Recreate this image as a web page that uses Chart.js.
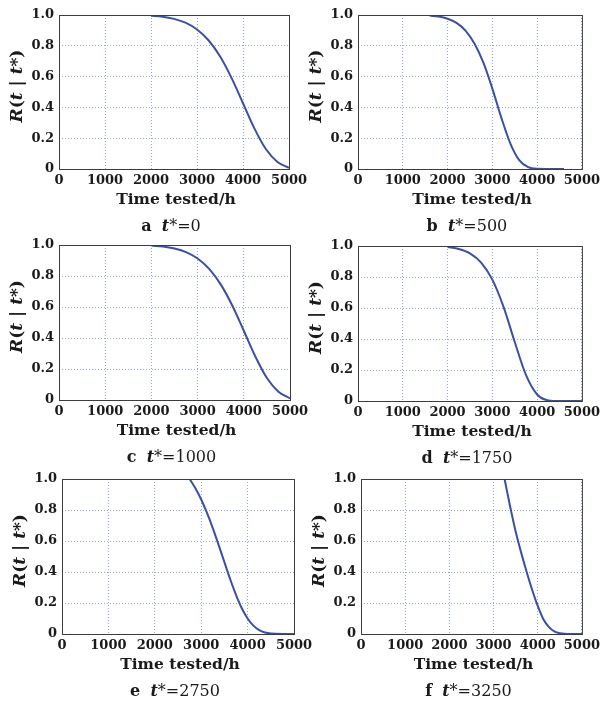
<!DOCTYPE html>
<html>
<head>
<meta charset="utf-8">
<script src="https://cdn.jsdelivr.net/npm/chart.js@4.4.1/dist/chart.umd.min.js"></script>
<style>
  html, body { margin: 0; padding: 0; background: #fff; }
  #wrap { position: relative; width: 604px; height: 706px; overflow: hidden; }
  #wrap canvas { position: absolute; left: 0; top: 0; }
</style>
</head>
<body>
<div id="wrap">
  <canvas id="pa" width="604" height="706"></canvas>
  <canvas id="pb" width="604" height="706"></canvas>
  <canvas id="pc" width="604" height="706"></canvas>
  <canvas id="pd" width="604" height="706"></canvas>
  <canvas id="pe" width="604" height="706"></canvas>
  <canvas id="pf" width="604" height="706"></canvas>
</div>
<script>
// values (time in h, conditional reliability)
const timeA = [2000, 2250, 2500, 2750, 3000, 3250, 3500, 3750, 4000, 4250, 4500, 4750, 5000];
const relA = [0.995, 0.989, 0.975, 0.950, 0.906, 0.836, 0.732, 0.592, 0.427, 0.262, 0.128, 0.046, 0.008];

const timeB = [1600, 1800, 2000, 2200, 2400, 2600, 2800, 3000, 3200, 3400, 3600, 3800, 4000, 4200, 4400, 4600];
const relB = [0.996, 0.990, 0.976, 0.949, 0.899, 0.815, 0.690, 0.522, 0.334, 0.167, 0.058, 0.012, 0.001, 0, 0, 0];

const timeC = [2000, 2250, 2500, 2750, 3000, 3250, 3500, 3750, 4000, 4250, 4500, 4750, 5000];
const relC = [0.996, 0.990, 0.977, 0.954, 0.913, 0.846, 0.746, 0.610, 0.447, 0.281, 0.142, 0.054, 0.010];

const timeD = [2000, 2250, 2500, 2750, 3000, 3250, 3500, 3750, 4000, 4250, 4500, 4750, 5000];
const relD = [0.993, 0.981, 0.953, 0.893, 0.783, 0.607, 0.381, 0.168, 0.042, 0.004, 0, 0, 0];

const timeE = [2750, 2875, 3000, 3125, 3250, 3375, 3500, 3625, 3750, 3875, 4000, 4125, 4250, 4375, 4500, 4750, 5000];
const relE = [1.0, 0.94, 0.868, 0.781, 0.683, 0.575, 0.464, 0.353, 0.253, 0.166, 0.100, 0.054, 0.025, 0.010, 0.003, 0, 0];

const timeF = [3250, 3300, 3375, 3450, 3500, 3625, 3750, 3875, 4000, 4125, 4250, 4375, 4500, 4750, 5000];
const relF = [1.0, 0.928, 0.823, 0.724, 0.662, 0.525, 0.400, 0.284, 0.181, 0.097, 0.046, 0.017, 0.005, 0, 0];

const panelLetters = ['a', 'b', 'c', 'd', 'e', 'f'];
const tStars = ['0', '500', '1000', '1750', '2750', '3250'];
const xLabel = 'Time tested/h';

// plot boxes on the page: left, top, right, bottom
const boxes = [
  [59, 15, 289, 169],
  [358, 15, 587, 169],
  [59, 245, 290, 400],
  [358, 246, 589, 401],
  [62, 479, 294, 634],
  [361, 479, 592, 634]
];

const W = 604, H = 706;
const Y_AXIS_W = 40, X_AXIS_H = 30;
const serif = '"DejaVu Serif", "Liberation Serif", serif';

function drawRich(ctx, parts, cx, cy) {
  let total = 0;
  parts.forEach((p) => {
    ctx.font = p.font;
    p.w = ctx.measureText(p.text).width;
    total += p.w;
  });
  let x = cx - total / 2;
  ctx.textAlign = 'left';
  ctx.textBaseline = 'middle';
  parts.forEach((p) => {
    ctx.font = p.font;
    ctx.fillText(p.text, x, cy);
    x += p.w;
  });
}

const panelText = {
  id: 'panelText',
  afterDraw(chart, args, opts) {
    const { ctx, chartArea: a } = chart;
    ctx.save();
    // box round the plot
    ctx.strokeStyle = '#3c3c3c';
    ctx.lineWidth = 1;
    ctx.setLineDash([]);
    ctx.strokeRect(a.left + 0.5, a.top + 0.5, a.right - a.left, a.bottom - a.top);

    ctx.fillStyle = '#1a1a1a';
    const cx = (a.left + a.right) / 2;

    drawRich(ctx, [{ text: xLabel, font: 'bold 15.5px ' + serif }], cx + 2, a.bottom + 31);

    drawRich(ctx, [
      { text: opts.letter, font: 'bold 16px ' + serif },
      { text: '  ', font: '16px ' + serif },
      { text: 't', font: 'italic bold 16px ' + serif },
      { text: '*=' + opts.tstar, font: '16px ' + serif }
    ], cx - 3, a.bottom + 58);

    ctx.translate(a.left - 41, (a.top + a.bottom) / 2 - 6);
    ctx.rotate(-Math.PI / 2);
    drawRich(ctx, [
      { text: 'R', font: 'italic bold 17px ' + serif },
      { text: '(', font: 'bold 17px ' + serif },
      { text: 't', font: 'italic bold 17px ' + serif },
      { text: ' | ', font: 'bold 17px ' + serif },
      { text: 't', font: 'italic bold 17px ' + serif },
      { text: '*)', font: 'bold 17px ' + serif }
    ], 0, 0);
    ctx.restore();
  }
};

const allTimes = [timeA, timeB, timeC, timeD, timeE, timeF];
const allRel = [relA, relB, relC, relD, relE, relF];

const gridColor = '#8eaad0';
const tickFont = { family: serif, size: 13, weight: 'bold' };

panelLetters.forEach((letter, i) => {
  const [l, t, r, b] = boxes[i];
  const points = allTimes[i].map((x, k) => ({ x, y: allRel[i][k] }));

  new Chart(document.getElementById('p' + letter), {
    type: 'line',
    data: {
      datasets: [{
        data: points,
        borderColor: '#3a50a5',
        borderWidth: 2,
        pointRadius: 0,
        cubicInterpolationMode: 'monotone',
        fill: false
      }]
    },
    options: {
      responsive: false,
      animation: false,
      devicePixelRatio: 1,
      layout: {
        padding: { left: l - Y_AXIS_W, top: t, right: W - r, bottom: H - b - X_AXIS_H }
      },
      plugins: {
        legend: { display: false },
        tooltip: { enabled: false },
        panelText: { letter, tstar: tStars[i] }
      },
      scales: {
        x: {
          type: 'linear',
          min: 0,
          max: 5000,
          afterFit: (s) => { s.height = X_AXIS_H; },
          ticks: {
            stepSize: 1000,
            padding: 4,
            color: '#1a1a1a',
            font: tickFont,
            maxRotation: 0,
            callback: (v) => String(v)
          },
          grid: { color: gridColor, lineWidth: 1, drawTicks: false },
          border: { display: false, dash: [1, 2] }
        },
        y: {
          min: 0,
          max: 1,
          afterFit: (s) => { s.width = Y_AXIS_W; },
          ticks: {
            stepSize: 0.2,
            padding: 5,
            color: '#1a1a1a',
            font: tickFont,
            callback: (v) => (v === 0 ? '0' : v.toFixed(1))
          },
          grid: { color: gridColor, lineWidth: 1, drawTicks: false },
          border: { display: false, dash: [1, 2] }
        }
      }
    },
    plugins: [panelText]
  });
});
</script>
</body>
</html>
